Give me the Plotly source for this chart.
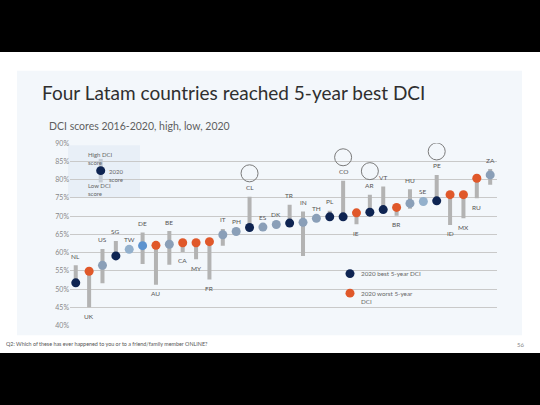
import plotly.graph_objects as go

countries = ["NL", "UK", "US", "SG", "TW", "DE", "AU", "BE", "CA", "MY", "FR", "IT", "PH", "CL", "ES", "DK",
             "TR", "IN", "TH", "PL", "CO", "IE", "AR", "VT", "BR", "HU", "SE", "PE", "ID", "MX", "RU", "ZA"]
score_2020 = [51.7, 54.9, 56.5, 59.1, 60.9, 61.9, 62.0, 62.3, 62.7, 62.7, 63.0, 64.9, 65.8, 66.9, 67.0, 67.7,
              68.1, 68.3, 69.4, 69.8, 69.8, 70.9, 71.1, 71.8, 72.4, 73.5, 74.0, 74.2, 75.9, 75.9, 80.4, 81.3]
score_high = [56.5, 54.9, 61.0, 63.2, 60.9, 65.5, 62.0, 65.9, 62.7, 62.7, 63.0, 66.5, 65.8, 75.3, 67.0, 67.7,
              73.1, 71.3, 69.4, 71.5, 79.7, 70.9, 75.9, 78.1, 72.4, 77.4, 74.0, 81.3, 75.9, 75.9, 80.4, 82.9]
score_low = [51.7, 45.0, 51.6, 59.1, 60.9, 56.9, 51.2, 56.7, 60.2, 58.2, 52.6, 61.9, 65.8, 66.9, 67.0, 67.7,
             68.1, 59.1, 69.4, 69.8, 69.8, 67.8, 71.1, 71.8, 70.1, 72.0, 74.0, 74.2, 67.6, 69.4, 74.9, 78.6]
status = ["best", "worst", "mid", "best", "light", "blue", "worst", "mid", "worst", "worst", "worst", "mid",
          "mid", "best", "mid", "mid", "best", "mid", "mid", "best", "best", "worst", "best", "best", "worst",
          "mid", "light", "best", "worst", "worst", "worst", "mid"]
label_side = ["top", "bottom", "top", "top", "top", "top", "bottom", "top", "bottom", "bottom", "bottom",
              "top", "top", "top", "top", "top", "top", "top", "top", "top", "top", "bottom", "top", "top",
              "bottom", "top", "top", "top", "bottom", "bottom", "bottom", "top"]
highlighted = ["CL", "CO", "AR", "PE"]
y_ticks = [40, 45, 50, 55, 60, 65, 70, 75, 80, 85, 90]
y_tick_labels = [f"{v}%" for v in y_ticks]

NAVY = "#0e2452"
ORANGE = "#e0582a"
status_colors = {"best": NAVY, "worst": ORANGE, "mid": "#8a9fb8", "light": "#93b0cc", "blue": "#5d93cf"}
BAR = "#b3b3b3"
FONT = "Lato"

W, H = 540, 405
def px(x):
    return x / W
def py(y):
    return 1 - y / H

xi = list(range(len(countries)))

fig = go.Figure()
fig.add_trace(go.Bar(
    x=xi, base=score_low, y=[h - l for h, l in zip(score_high, score_low)],
    width=0.3, marker=dict(color=BAR, line=dict(width=0)), hoverinfo="skip"))
fig.add_trace(go.Scatter(
    x=xi, y=score_2020, mode="markers", cliponaxis=False,
    marker=dict(size=9, color=[status_colors[s] for s in status], line=dict(width=0)),
    text=countries, hovertemplate="%{text}: %{y}%<extra></extra>"))

annotations = []
for i, c in enumerate(countries):
    if label_side[i] == "top":
        yv, shift = score_high[i], 9
        if score_high[i] - score_2020[i] < 0.5:
            shift = 10
    else:
        yv, shift = score_low[i], -9
        if score_2020[i] - score_low[i] < 0.5:
            shift = -10
    annotations.append(dict(x=i, y=yv, xref="x", yref="y", text=c, showarrow=False, yshift=shift,
                            font=dict(family=FONT, size=6.5, color="#555555"), yanchor="middle"))

shapes = [
    dict(type="rect", xref="paper", yref="paper", x0=0, x1=1, y0=py(355), y1=py(48),
         fillcolor="white", line=dict(width=0), layer="below"),
    dict(type="rect", xref="paper", yref="paper", x0=px(17), x1=px(522), y0=py(337), y1=py(67),
         fillcolor="#f3f7fb", line=dict(width=0), layer="below"),
    # key box
    dict(type="rect", xref="paper", yref="paper", x0=px(68), x1=px(140), y0=py(197), y1=py(143),
         fillcolor="#e8eff7", line=dict(width=0), layer="below"),
    dict(type="rect", xref="paper", yref="paper", x0=px(98.7), x1=px(102.7), y0=py(181), y1=py(157),
         fillcolor="#c3cad3", line=dict(width=0), layer="above"),
    dict(type="circle", xref="paper", yref="paper", x0=px(96.2), x1=px(105.2), y0=py(173.5), y1=py(164.5),
         fillcolor=NAVY, line=dict(width=0), layer="above"),
    # bottom legend dots
    dict(type="circle", xref="paper", yref="paper", x0=px(345.5), x1=px(354.5), y0=py(278.5), y1=py(269.5),
         fillcolor=NAVY, line=dict(width=0), layer="above"),
    dict(type="circle", xref="paper", yref="paper", x0=px(345.5), x1=px(354.5), y0=py(298.5), y1=py(289.5),
         fillcolor=ORANGE, line=dict(width=0), layer="above"),
]
for c in highlighted:
    i = countries.index(c)
    shapes.append(dict(type="circle", xref="x", yref="y", xsizemode="pixel", ysizemode="pixel",
                       xanchor=i, yanchor=score_high[i], x0=-8.5, x1=8.5, y0=15, y1=32,
                       line=dict(color="#7a7a7a", width=1), fillcolor="rgba(0,0,0,0)", layer="above"))

def txt(x, y, t, size, color, xanchor="left", yanchor="middle"):
    annotations.append(dict(x=px(x), y=py(y), xref="paper", yref="paper", text=t, showarrow=False,
                            xanchor=xanchor, yanchor=yanchor, align="left",
                            font=dict(family=FONT, size=size, color=color)))

txt(40, 89, "Four Latam countries reached 5-year best DCI", 19, "#2f2f2f")
txt(47, 123, "DCI scores 2016-2020, high, low, 2020", 10.5, "#5f5f5f")
txt(4, 346, "Q2: Which of these has ever happened to you or to a friend/family member ONLINE?", 5.4, "#555555")
txt(526, 346, "56", 6, "#888888", xanchor="right")
txt(86, 157, "High DCI<br>score", 6, "#666666")
txt(107, 173.5, "2020<br>score", 6, "#666666")
txt(86, 188.5, "Low DCI<br>score", 6, "#666666")
txt(359, 274, "2020 best 5-year DCI", 6.3, "#666666")
txt(359, 298, "2020 worst 5-year<br>DCI", 6.3, "#666666")

fig.update_layout(
    width=W, height=H, margin=dict(l=0, r=0, t=0, b=0),
    paper_bgcolor="black", plot_bgcolor="rgba(0,0,0,0)",
    showlegend=False, barmode="overlay",
    shapes=shapes, annotations=annotations,
    xaxis=dict(domain=[px(70), px(497)], range=[-0.43, 31.51], showgrid=False, zeroline=False,
               showticklabels=False, showline=False, fixedrange=True),
    yaxis=dict(domain=[py(327), py(141)], range=[40, 90], tickvals=y_ticks, ticktext=y_tick_labels,
               showgrid=True, gridcolor="#c9c9c9", gridwidth=1, zeroline=False, showline=False,
               tickfont=dict(family=FONT, size=7, color="#888888"), ticks="", fixedrange=True),
)

fig.write_html("out.html", config={"displayModeBar": False},
               post_script="document.body.style.margin='0';document.body.style.overflow='hidden';")
